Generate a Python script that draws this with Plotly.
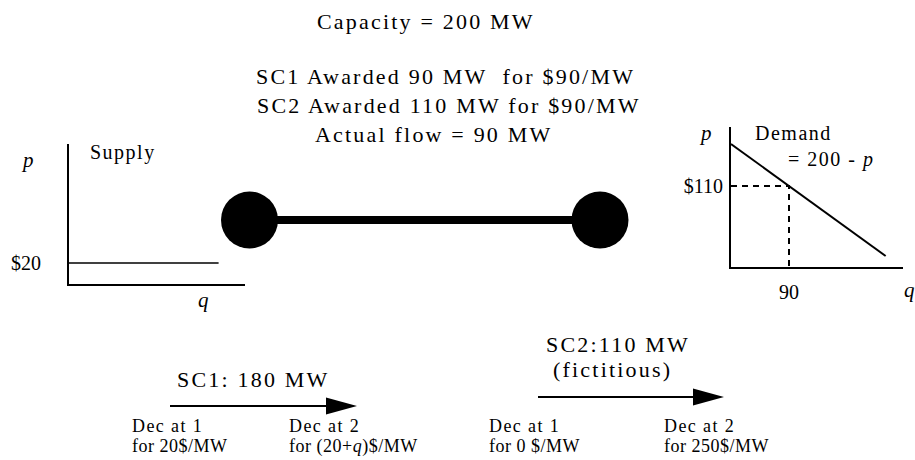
import plotly.graph_objects as go

# ---------------- data ----------------
capacity_mw = 200
award_sc = ["SC1", "SC2"]
award_mw = [90, 110]
award_price = [90, 90]
actual_flow = 90

supply_price = 20          # flat supply curve at $20
supply_q = [0, 85]         # schematic extent of supply curve

demand_intercept = 200     # demand: p = 200 - q
demand_q_end = 240
cleared_q = 90
cleared_p = 110

sched_names = ["SC1", "SC2"]
sched_mw = [180, 110]
sched_note = ["", "(fictitious)"]
dec1_price = ["20$/MW", "0 $/MW"]
dec2_price = ["(20+<i>q</i>)$/MW", "250$/MW"]

# ---------------- helpers ----------------
W, H = 915, 460
FONT = "Liberation Serif"


def sp(text, ls):
    return f'<span style="letter-spacing:{ls}px">{text}</span>'


annotations = []


def ann(text, x, y, size=22, ls=2.2, xanchor="center", yanchor="middle"):
    annotations.append(dict(
        text=sp(text, ls), x=x, y=y, xref="x", yref="y", showarrow=False,
        xanchor=xanchor, yanchor=yanchor,
        font=dict(family=FONT, size=size, color="black")))


fig = go.Figure()

# ---------- supply mini chart (xaxis2/yaxis2) ----------
fig.add_trace(go.Scatter(
    x=supply_q, y=[supply_price] * len(supply_q), mode="lines",
    line=dict(color="black", width=1.6), xaxis="x2", yaxis="y2",
    hoverinfo="skip"))

# ---------- demand mini chart (xaxis3/yaxis3) ----------
d_p_min, d_p_max = -63.6, 236.4
d_q_max = 266.9
fig.add_trace(go.Scatter(
    x=[0, demand_q_end], y=[demand_intercept, demand_intercept - demand_q_end],
    mode="lines", line=dict(color="black", width=2), xaxis="x3", yaxis="y3",
    hoverinfo="skip"))
fig.add_trace(go.Scatter(
    x=[0, cleared_q, cleared_q], y=[cleared_p, cleared_p, d_p_min],
    mode="lines", line=dict(color="black", width=2, dash="6px,5px"),
    xaxis="x3", yaxis="y3", hoverinfo="skip"))

# ---------- network (pixel overlay axis) ----------
shapes = []
shapes.append(dict(type="line", xref="x", yref="y", x0=250, x1=600, y0=220, y1=220,
                   line=dict(color="black", width=8)))
for cx in (249.5, 600):
    shapes.append(dict(type="circle", xref="x", yref="y",
                       x0=cx - 28.5, x1=cx + 28.5, y0=191.5, y1=248.5,
                       fillcolor="black", line=dict(color="black", width=0)))

# schedule arrows
arrows = [(170, 328, 357, 406), (538, 695, 724, 397)]
for x0, x1, xt, yy in arrows:
    shapes.append(dict(type="line", xref="x", yref="y", x0=x0, x1=x1, y0=yy, y1=yy,
                       line=dict(color="black", width=2)))
    shapes.append(dict(type="path", xref="x", yref="y",
                       path=f"M {xt-31},{yy-8.5} L {xt},{yy} L {xt-31},{yy+8.5} Z",
                       fillcolor="black", line=dict(color="black", width=0)))

# ---------- texts ----------
ann(f"Capacity = {capacity_mw} MW", 426, 21)
ann(f"{award_sc[0]} Awarded {award_mw[0]} MW  for ${award_price[0]}/MW", 445, 76)
ann(f"{award_sc[1]} Awarded {award_mw[1]} MW for ${award_price[1]}/MW", 449, 105)
ann(f"Actual flow = {actual_flow} MW", 434, 134)

# supply labels
ann("Supply", 123, 152, size=20, ls=1.5)
ann("<i>p</i>", 27, 160, size=21, ls=0)
ann("<i>q</i>", 203, 300, size=21, ls=0)

# demand labels
ann("Demand", 793, 133, size=20, ls=1.5)
ann(f"= {demand_intercept} - <i>p</i>", 831, 159, size=20, ls=1.5)
ann("<i>p</i>", 705, 133, size=21, ls=0)
ann("<i>q</i>", 902, 290, size=21, ls=0, xanchor="left")

# schedule texts
ann(f"{sched_names[0]}: {sched_mw[0]} MW", 253, 379)
ann(f"{sched_names[1]}:{sched_mw[1]} MW", 618, 344)
ann(sched_note[1], 612, 369)

dec_x = [(130, 287), (487, 662)]
for i in range(2):
    xa, xb = dec_x[i]
    ann("Dec at 1", xa, 426, size=18, ls=1.4, xanchor="left")
    ann("for " + dec1_price[i], xa, 446, size=18, ls=0.5, xanchor="left")
    ann("Dec at 2", xb, 426, size=18, ls=1.4, xanchor="left")
    ann("for " + dec2_price[i], xb, 446, size=18, ls=0.5, xanchor="left")

tickfont = dict(family=FONT, size=20, color="black")

fig.update_layout(
    width=W, height=H, margin=dict(l=0, r=0, t=0, b=0),
    paper_bgcolor="white", plot_bgcolor="white", showlegend=False,
    xaxis=dict(domain=[0, 1], range=[0, W], visible=False, fixedrange=True),
    yaxis=dict(domain=[0, 1], range=[H, 0], visible=False, fixedrange=True),
    xaxis2=dict(domain=[69 / W, 245 / W], range=[0, 100], anchor="y2",
                showline=True, linecolor="black", linewidth=2, showgrid=False,
                zeroline=False, showticklabels=False, ticks=""),
    yaxis2=dict(domain=[1 - 284 / H, 1 - 144 / H], range=[0, 133.3], anchor="x2",
                showline=True, linecolor="black", linewidth=2, showgrid=False,
                zeroline=False, ticks="", tickvals=[supply_price],
                ticktext=[f"${supply_price}"], tickfont=tickfont,
                ticklabelstandoff=22),
    xaxis3=dict(domain=[731 / W, 903 / W], range=[0, d_q_max], anchor="y3",
                showline=True, linecolor="black", linewidth=2, showgrid=False,
                zeroline=False, ticks="", tickvals=[cleared_q],
                ticktext=[str(cleared_q)], tickfont=tickfont,
                ticklabelstandoff=6),
    yaxis3=dict(domain=[1 - 267 / H, 1 - 127 / H], range=[d_p_min, d_p_max],
                anchor="x3", showline=True, linecolor="black", linewidth=2,
                showgrid=False, zeroline=False, ticks="", tickvals=[cleared_p],
                ticktext=[f"${cleared_p}"], tickfont=tickfont,
                ticklabelstandoff=2),
    shapes=shapes, annotations=annotations,
)

fig.write_html(
    "out.html",
    config={"displayModeBar": False},
    post_script="document.body.style.margin='0';document.body.style.overflow='hidden';",
)
